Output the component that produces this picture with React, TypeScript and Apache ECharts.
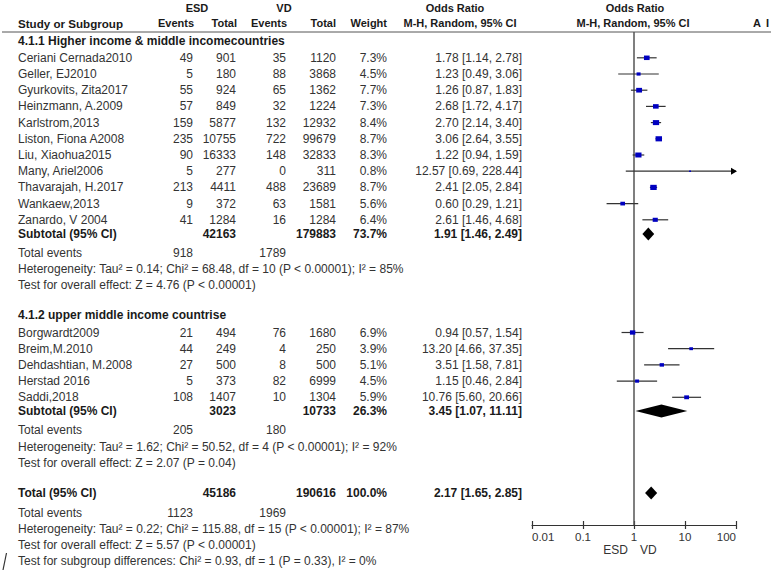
import React, { useEffect, useRef } from "react";
import * as echarts from "echarts";

// ---------- data ----------
const group1Title = "4.1.1 Higher income & middle incomecountries";
const group1Studies = [
  "Ceriani Cernada2010", "Geller, EJ2010", "Gyurkovits, Zita2017", "Heinzmann, A.2009",
  "Karlstrom,2013", "Liston, Fiona A2008", "Liu, Xiaohua2015", "Many, Ariel2006",
  "Thavarajah, H.2017", "Wankaew,2013", "Zanardo, V 2004",
];
const group1EsdEvents = [49, 5, 55, 57, 159, 235, 90, 5, 213, 9, 41];
const group1EsdTotal = [901, 180, 924, 849, 5877, 10755, 16333, 277, 4411, 372, 1284];
const group1VdEvents = [35, 88, 65, 32, 132, 722, 148, 0, 488, 63, 16];
const group1VdTotal = [1120, 3868, 1362, 1224, 12932, 99679, 32833, 311, 23689, 1581, 1284];
const group1Weight = [7.3, 4.5, 7.7, 7.3, 8.4, 8.7, 8.3, 0.8, 8.7, 5.6, 6.4];
const group1OR = [1.78, 1.23, 1.26, 2.68, 2.7, 3.06, 1.22, 12.57, 2.41, 0.6, 2.61];
const group1Low = [1.14, 0.49, 0.87, 1.72, 2.14, 2.64, 0.94, 0.69, 2.05, 0.29, 1.46];
const group1High = [2.78, 3.06, 1.83, 4.17, 3.4, 3.55, 1.59, 228.44, 2.84, 1.21, 4.68];
const group1Subtotal = { esdTotal: 42163, vdTotal: 179883, weight: 73.7, or: 1.91, low: 1.46, high: 2.49, esdEvents: 918, vdEvents: 1789 };
const group1Het = "Heterogeneity: Tau² = 0.14; Chi² = 68.48, df = 10 (P < 0.00001); I² = 85%";
const group1Test = "Test for overall effect: Z = 4.76 (P < 0.00001)";

const group2Title = "4.1.2 upper middle income countrise";
const group2Studies = ["Borgwardt2009", "Breim,M.2010", "Dehdashtian, M.2008", "Herstad 2016", "Saddi,2018"];
const group2EsdEvents = [21, 44, 27, 5, 108];
const group2EsdTotal = [494, 249, 500, 373, 1407];
const group2VdEvents = [76, 4, 8, 82, 10];
const group2VdTotal = [1680, 250, 500, 6999, 1304];
const group2Weight = [6.9, 3.9, 5.1, 4.5, 5.9];
const group2OR = [0.94, 13.2, 3.51, 1.15, 10.76];
const group2Low = [0.57, 4.66, 1.58, 0.46, 5.6];
const group2High = [1.54, 37.35, 7.81, 2.84, 20.66];
const group2Subtotal = { esdTotal: 3023, vdTotal: 10733, weight: 26.3, or: 3.45, low: 1.07, high: 11.11, esdEvents: 205, vdEvents: 180 };
const group2Het = "Heterogeneity: Tau² = 1.62; Chi² = 50.52, df = 4 (P < 0.00001); I² = 92%";
const group2Test = "Test for overall effect: Z = 2.07 (P = 0.04)";

const overall = { esdTotal: 45186, vdTotal: 190616, weight: 100.0, or: 2.17, low: 1.65, high: 2.85, esdEvents: 1123, vdEvents: 1969 };
const overallHet = "Heterogeneity: Tau² = 0.22; Chi² = 115.88, df = 15 (P < 0.00001); I² = 87%";
const overallTest = "Test for overall effect: Z = 5.57 (P < 0.00001)";
const subgroupTest = "Test for subgroup differences: Chi² = 0.93, df = 1 (P = 0.33), I² = 0%";

const axisTickLabels = ["0.01", "0.1", "1", "10", "100"];
const favoursLeft = "ESD";
const favoursRight = "VD";

// ---------- layout ----------
const W = 771;
const H = 574;
const FONT = '"Liberation Sans", Arial, Helvetica, sans-serif';
const BODY_SIZE = 12;
const HEAD_SIZE = 11;
const Y_HEAD1 = 7.5;
const Y_HEAD2 = 23;
const Y_RULE = 32;
const Y_AXIS = 525;
const STEP = 16.2;
const Y_G1_TITLE = 41;
const Y_G1_FIRST = 57.8;
const Y_G1_SUB = 234;
const Y_G1_EVT = 253;
const Y_G1_HET = 269;
const Y_G1_TEST = 285;
const Y_G2_TITLE = 315;
const Y_G2_FIRST = 332.5;
const Y_G2_SUB = 411;
const Y_G2_EVT = 430;
const Y_G2_HET = 446.5;
const Y_G2_TEST = 462.5;
const Y_TOT = 493;
const Y_TOT_EVT = 512.5;
const Y_TOT_HET = 528.5;
const Y_TOT_TEST = 544.5;
const Y_SUBGRP = 560.5;

const X_LABEL = 18;
const X_ESD_EV = 193;
const X_ESD_TOT = 236;
const X_VD_EV = 286;
const X_VD_TOT = 336;
const X_WEIGHT = 387;
const X_OR = 522;

const GRID_LEFT = 532;
const GRID_RIGHT_EDGE = 736;

function txt(text: string, x: number, y: number, align = "left", bold = false, size = BODY_SIZE) {
  return {
    type: "text",
    x,
    y,
    silent: true,
    style: {
      text,
      font: `${bold ? "bold " : ""}${size}px ${FONT}`,
      fill: bold ? "#1a1a1a" : "#333333",
      align,
      textAlign: align,
      verticalAlign: "middle",
      textVerticalAlign: "middle",
    },
  };
}
const head = (text: string, x: number, y: number, align = "left", size = HEAD_SIZE) => txt(text, x, y, align, true, size);

const fmtOR = (o: number, l: number, h: number) => `${o.toFixed(2)} [${l.toFixed(2)}, ${h.toFixed(2)}]`;
const fmtW = (w: number) => `${w.toFixed(1)}%`;

function buildGraphics() {
  const els: any[] = [];
  // headers
  els.push(head("ESD", 197, Y_HEAD1, "center"));
  els.push(head("VD", 284, Y_HEAD1, "center"));
  els.push(head("Odds Ratio", 455, Y_HEAD1, "center"));
  els.push(head("Odds Ratio", 635, Y_HEAD1, "center"));
  els.push(head("Study or Subgroup", X_LABEL, Y_HEAD2, "left", 11.6));
  els.push(head("Events", X_ESD_EV + 1, Y_HEAD2, "right"));
  els.push(head("Total", X_ESD_TOT + 1, Y_HEAD2, "right"));
  els.push(head("Events", X_VD_EV + 1, Y_HEAD2, "right"));
  els.push(head("Total", X_VD_TOT, Y_HEAD2, "right"));
  els.push(head("Weight", X_WEIGHT, Y_HEAD2, "right"));
  els.push(head("M-H, Random, 95% CI", 460, Y_HEAD2, "center"));
  els.push(head("M-H, Random, 95% CI", 633, Y_HEAD2, "center"));
  els.push(head("A", 753, Y_HEAD2, "left"));
  els.push(head("I", 766, Y_HEAD2, "left"));
  els.push({ type: "line", silent: true, shape: { x1: 2, y1: Y_RULE, x2: W, y2: Y_RULE }, style: { stroke: "#555", lineWidth: 1 } });

  const addGroup = (
    title: string, yTitle: number, yFirst: number, studies: string[],
    ee: number[], et: number[], ve: number[], vt: number[], w: number[], o: number[], l: number[], h: number[],
    sub: any, ySub: number, yEvt: number, het: string, yHet: number, test: string, yTest: number,
  ) => {
    els.push(txt(title, X_LABEL, yTitle, "left", true));
    studies.forEach((s, i) => {
      const y = yFirst + i * STEP;
      els.push(txt(s, X_LABEL, y));
      els.push(txt(String(ee[i]), X_ESD_EV, y, "right"));
      els.push(txt(String(et[i]), X_ESD_TOT, y, "right"));
      els.push(txt(String(ve[i]), X_VD_EV, y, "right"));
      els.push(txt(String(vt[i]), X_VD_TOT, y, "right"));
      els.push(txt(fmtW(w[i]), X_WEIGHT, y, "right"));
      els.push(txt(fmtOR(o[i], l[i], h[i]), X_OR, y, "right"));
    });
    els.push(txt("Subtotal (95% CI)", X_LABEL, ySub, "left", true));
    els.push(txt(String(sub.esdTotal), X_ESD_TOT, ySub, "right", true));
    els.push(txt(String(sub.vdTotal), X_VD_TOT, ySub, "right", true));
    els.push(txt(fmtW(sub.weight), X_WEIGHT, ySub, "right", true));
    els.push(txt(fmtOR(sub.or, sub.low, sub.high), X_OR, ySub, "right", true));
    els.push(txt("Total events", X_LABEL, yEvt));
    els.push(txt(String(sub.esdEvents), X_ESD_EV, yEvt, "right"));
    els.push(txt(String(sub.vdEvents), X_VD_EV, yEvt, "right"));
    els.push(txt(het, X_LABEL, yHet));
    els.push(txt(test, X_LABEL, yTest));
  };

  addGroup(group1Title, Y_G1_TITLE, Y_G1_FIRST, group1Studies, group1EsdEvents, group1EsdTotal, group1VdEvents, group1VdTotal,
    group1Weight, group1OR, group1Low, group1High, group1Subtotal, Y_G1_SUB, Y_G1_EVT, group1Het, Y_G1_HET, group1Test, Y_G1_TEST);
  addGroup(group2Title, Y_G2_TITLE, Y_G2_FIRST, group2Studies, group2EsdEvents, group2EsdTotal, group2VdEvents, group2VdTotal,
    group2Weight, group2OR, group2Low, group2High, group2Subtotal, Y_G2_SUB, Y_G2_EVT, group2Het, Y_G2_HET, group2Test, Y_G2_TEST);

  els.push(txt("Total (95% CI)", X_LABEL, Y_TOT, "left", true));
  els.push(txt(String(overall.esdTotal), X_ESD_TOT, Y_TOT, "right", true));
  els.push(txt(String(overall.vdTotal), X_VD_TOT, Y_TOT, "right", true));
  els.push(txt(fmtW(overall.weight), X_WEIGHT, Y_TOT, "right", true));
  els.push(txt(fmtOR(overall.or, overall.low, overall.high), X_OR, Y_TOT, "right", true));
  els.push(txt("Total events", X_LABEL, Y_TOT_EVT));
  els.push(txt(String(overall.esdEvents), X_ESD_EV, Y_TOT_EVT, "right"));
  els.push(txt(String(overall.vdEvents), X_VD_EV, Y_TOT_EVT, "right"));
  els.push(txt(overallHet, X_LABEL, Y_TOT_HET));
  els.push(txt(overallTest, X_LABEL, Y_TOT_TEST));
  els.push(txt(subgroupTest, X_LABEL, Y_SUBGRP));

  // favours labels
  els.push(txt(favoursLeft, 628, 550, "right"));
  els.push(txt(favoursRight, 640, 550, "left"));
  // stray slash mark
  els.push({ type: "line", silent: true, shape: { x1: 6.5, y1: 553, x2: 3, y2: 570 }, style: { stroke: "#333", lineWidth: 1.2 } });
  return els;
}

function buildForestData() {
  const rows: number[][] = [];
  group1Studies.forEach((_, i) => rows.push([0, group1OR[i], group1Low[i], group1High[i], group1Weight[i], Y_G1_FIRST + i * STEP]));
  rows.push([1, group1Subtotal.or, group1Subtotal.low, group1Subtotal.high, group1Subtotal.weight, Y_G1_SUB]);
  group2Studies.forEach((_, i) => rows.push([0, group2OR[i], group2Low[i], group2High[i], group2Weight[i], Y_G2_FIRST + i * STEP]));
  rows.push([1, group2Subtotal.or, group2Subtotal.low, group2Subtotal.high, group2Subtotal.weight, Y_G2_SUB]);
  rows.push([1, overall.or, overall.low, overall.high, overall.weight, Y_TOT]);
  return rows;
}

export default function App() {
  const ref = useRef<HTMLDivElement>(null);
  useEffect(() => {
    if (!ref.current) return;
    const chart = echarts.init(ref.current, null, { renderer: "svg" });
    const logAxisBase = {
      type: "log",
      logBase: 10,
      min: 0.01,
      max: 100,
      position: "bottom",
      splitLine: { show: false },
      minorTick: { show: false },
    };
    const option: any = {
      animation: false,
      grid: { left: GRID_LEFT, right: W - GRID_RIGHT_EDGE, top: Y_RULE, bottom: H - Y_AXIS, containLabel: false },
      xAxis: [
        {
          ...logAxisBase,
          axisLine: { show: true, lineStyle: { color: "#333", width: 1.2 } },
          axisTick: { show: true, inside: false, length: 4, lineStyle: { color: "#333", width: 1.2 } },
          axisLabel: {
            show: true,
            margin: 6,
            color: "#333",
            fontSize: 11.5,
            fontFamily: FONT,
            alignMinLabel: "left",
            alignMaxLabel: "right",
            formatter: (v: number) => axisTickLabels[Math.round(Math.log10(v)) + 2] ?? "",
          },
        },
        {
          ...logAxisBase,
          axisLine: { show: false },
          axisTick: { show: true, inside: true, length: 4, lineStyle: { color: "#333", width: 1.2 } },
          axisLabel: { show: false },
        },
      ],
      yAxis: { type: "value", min: Y_RULE, max: Y_AXIS, inverse: true, show: false },
      series: [
        {
          type: "line",
          xAxisIndex: 0,
          data: [[1, Y_RULE], [1, Y_AXIS]],
          symbol: "none",
          silent: true,
          lineStyle: { color: "#555", width: 1.5 },
          z: 1,
        },
        {
          type: "custom",
          xAxisIndex: 0,
          clip: false,
          silent: true,
          z: 3,
          encode: { x: [1, 2, 3], y: 5 },
          data: buildForestData(),
          renderItem: (params: any, api: any) => {
            const kind = api.value(0);
            const est = api.value(1);
            const lo = api.value(2);
            const hi = api.value(3);
            const w = api.value(4);
            const y = api.value(5);
            const pLo = api.coord([Math.max(lo, 0.01), y]);
            const pHi = api.coord([Math.min(hi, 100), y]);
            const pEst = api.coord([est, y]);
            if (kind === 1) {
              const hh = 6.5;
              return {
                type: "polygon",
                shape: { points: [[pLo[0], pEst[1]], [pEst[0], pEst[1] - hh], [pHi[0], pEst[1]], [pEst[0], pEst[1] + hh]] },
                style: { fill: "#000" },
              };
            }
            const s = 1.4 + w * 0.58;
            const children: any[] = [
              {
                type: "line",
                shape: { x1: pLo[0], y1: pLo[1], x2: pHi[0], y2: pHi[1] },
                style: { stroke: "#333", lineWidth: 1.2 },
              },
              {
                type: "rect",
                shape: { x: pEst[0] - s / 2, y: pEst[1] - s * 0.4, width: s, height: s * 0.8 },
                style: { fill: "#0000c0" },
              },
            ];
            if (hi > 100) {
              children.push({
                type: "polygon",
                shape: { points: [[pHi[0] - 5, pHi[1] - 3.5], [pHi[0] + 1, pHi[1]], [pHi[0] - 5, pHi[1] + 3.5]] },
                style: { fill: "#000" },
              });
            }
            if (lo < 0.01) {
              children.push({
                type: "polygon",
                shape: { points: [[pLo[0] + 5, pLo[1] - 3.5], [pLo[0] - 1, pLo[1]], [pLo[0] + 5, pLo[1] + 3.5]] },
                style: { fill: "#000" },
              });
            }
            return { type: "group", children };
          },
        },
      ],
      graphic: { elements: buildGraphics() },
    };
    chart.setOption(option);
    return () => chart.dispose();
  }, []);
  return (
    <div
      ref={ref}
      style={{ position: "fixed", left: 0, top: 0, width: W, height: H, background: "#fff" }}
    />
  );
}
